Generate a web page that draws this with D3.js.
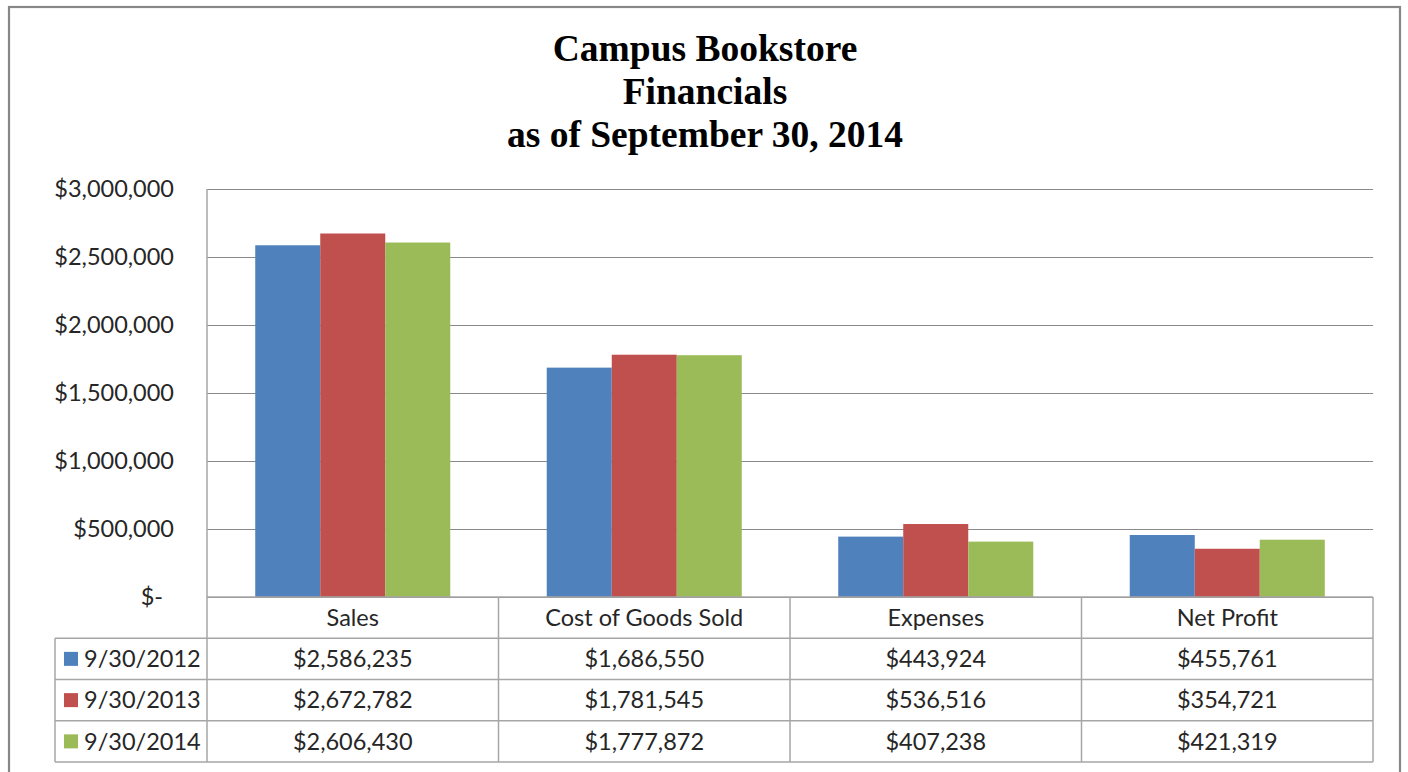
<!DOCTYPE html>
<html>
<head>
<meta charset="utf-8">
<script src="https://cdn.jsdelivr.net/npm/d3@7"></script>
<style>
  html, body { margin: 0; padding: 0; background: #fff; }
  svg { display: block; }
</style>
</head>
<body>
<svg id="chart" width="1408" height="772"></svg>
<script>
const categories = ["Sales", "Cost of Goods Sold", "Expenses", "Net Profit"];
const seriesNames = ["9/30/2012", "9/30/2013", "9/30/2014"];
const values2012 = [2586235, 1686550, 443924, 455761];
const values2013 = [2672782, 1781545, 536516, 354721];
const values2014 = [2606430, 1777872, 407238, 421319];
const seriesColors = ["#4F81BD", "#C0504D", "#9BBB59"];
const yTicks = [0, 500000, 1000000, 1500000, 2000000, 2500000, 3000000];
const titleLines = ["Campus Bookstore", "Financials", "as of September 30, 2014"];

const seriesValues = [values2012, values2013, values2014];

const svg = d3.select("#chart");

const plot = { left: 207, right: 1373, top: 189, bottom: 597 };
const tableLeft = 55;
const rowH = 41.25;
const labelFont = "Lato, 'Open Sans', sans-serif";
const labelSize = 23.5;
const textColor = "#262626";
const gridColor = "#8a8a8a";
const tableColor = "#a6a6a6";

// outer frame
svg.append("rect")
  .attr("x", 9).attr("y", 7).attr("width", 1391).attr("height", 800)
  .attr("fill", "#fff").attr("stroke", "#878787").attr("stroke-width", 2.2);

// title
svg.append("g").selectAll("text").data(titleLines).join("text")
  .attr("x", 705)
  .attr("y", (d, i) => 61 + i * 43)
  .attr("text-anchor", "middle")
  .attr("font-family", "'Liberation Serif', 'Times New Roman', serif")
  .attr("font-weight", "bold")
  .attr("font-size", 37.5)
  .attr("fill", "#000")
  .text(d => d);

// scales
const y = d3.scaleLinear().domain([0, 3000000]).range([plot.bottom, plot.top]);
const x0 = d3.scaleBand().domain(categories).range([plot.left, plot.right]).padding(0);
const x1 = d3.scaleBand().domain(seriesNames).range([0, x0.bandwidth()])
  .paddingInner(0).paddingOuter(0.742);

// gridlines + y labels
const fmt = d3.format(",");
const yAxis = d3.axisLeft(y)
  .tickValues(yTicks)
  .tickSize(-(plot.right - plot.left))
  .tickPadding(33)
  .tickFormat(v => v === 0 ? "$-" : "$" + fmt(v));

const gy = svg.append("g")
  .attr("transform", `translate(${plot.left},0)`)
  .call(yAxis);
gy.select(".domain").remove();
gy.selectAll(".tick line").attr("stroke", gridColor).attr("stroke-width", 1.2);
gy.selectAll(".tick text")
  .attr("font-family", labelFont)
  .attr("font-size", labelSize)
  .attr("fill", textColor)
  .attr("dx", d => d === 0 ? -11 : 0);

// bars
const groups = svg.append("g").selectAll("g")
  .data(seriesNames)
  .join("g")
  .attr("fill", (d, i) => seriesColors[i]);

groups.selectAll("rect")
  .data((s, si) => categories.map((c, ci) => ({ c, s, v: seriesValues[si][ci] })))
  .join("rect")
  .attr("x", d => x0(d.c) + x1(d.s))
  .attr("y", d => y(d.v))
  .attr("width", x1.bandwidth())
  .attr("height", d => y(0) - y(d.v));

// axis line on the left of plot and table
svg.append("line")
  .attr("x1", plot.left).attr("x2", plot.left)
  .attr("y1", plot.top).attr("y2", plot.bottom + rowH * 4)
  .attr("stroke", tableColor).attr("stroke-width", 1.5);

// data table
const tbl = svg.append("g");
const tBottom = plot.bottom + rowH * 4;
tbl.append("line")
  .attr("x1", plot.left).attr("x2", plot.right)
  .attr("y1", plot.bottom).attr("y2", plot.bottom)
  .attr("stroke", tableColor).attr("stroke-width", 1.5);
[1, 2, 3, 4].forEach(r => {
  tbl.append("line")
    .attr("x1", tableLeft).attr("x2", plot.right)
    .attr("y1", plot.bottom + rowH * r).attr("y2", plot.bottom + rowH * r)
    .attr("stroke", tableColor).attr("stroke-width", 1.5);
});
tbl.append("line")
  .attr("x1", tableLeft).attr("x2", tableLeft)
  .attr("y1", plot.bottom + rowH).attr("y2", tBottom)
  .attr("stroke", tableColor).attr("stroke-width", 1.5);
tbl.selectAll("line.vcat").data(categories).join("line")
  .attr("class", "vcat")
  .attr("x1", d => x0(d) + x0.bandwidth()).attr("x2", d => x0(d) + x0.bandwidth())
  .attr("y1", plot.bottom).attr("y2", tBottom)
  .attr("stroke", tableColor).attr("stroke-width", 1.5);

// header labels
tbl.selectAll("text.cat").data(categories).join("text")
  .attr("class", "cat")
  .attr("x", d => x0(d) + x0.bandwidth() / 2)
  .attr("y", plot.bottom + rowH / 2)
  .attr("dy", "0.35em")
  .attr("text-anchor", "middle")
  .attr("font-family", labelFont).attr("font-size", labelSize).attr("fill", textColor)
  .text(d => d);

// series rows
seriesNames.forEach((s, si) => {
  const cy = plot.bottom + rowH * (si + 1) + rowH / 2;
  tbl.append("rect")
    .attr("x", 64).attr("y", cy - 7).attr("width", 14).attr("height", 14)
    .attr("fill", seriesColors[si]);
  tbl.append("text")
    .attr("x", 84).attr("y", cy).attr("dy", "0.35em")
    .attr("font-family", labelFont).attr("font-size", labelSize).attr("fill", textColor)
    .text(s);
  tbl.selectAll(null).data(categories).join("text")
    .attr("x", d => x0(d) + x0.bandwidth() / 2)
    .attr("y", cy).attr("dy", "0.35em")
    .attr("text-anchor", "middle")
    .attr("font-family", labelFont).attr("font-size", labelSize).attr("fill", textColor)
    .text((d, ci) => "$" + fmt(seriesValues[si][ci]));
});
</script>
</body>
</html>
